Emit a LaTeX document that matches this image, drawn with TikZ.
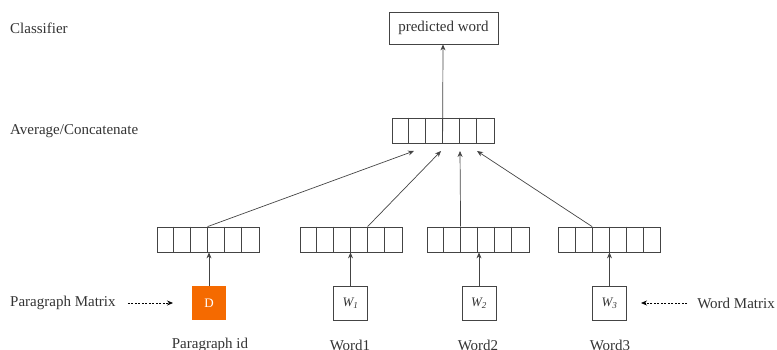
\documentclass[tikz,border=0pt]{standalone}
\usepackage{fontspec}
\setmainfont{Liberation Serif}
\usetikzlibrary{arrows.meta,calc}
\definecolor{txt}{HTML}{333333}
\definecolor{ln}{HTML}{444444}
\definecolor{org}{RGB}{245,106,0}
\begin{document}
\begin{tikzpicture}[x=1pt,y=-1pt,
  lbl/.style={font=\fontsize{15}{17}\selectfont, text=txt, inner sep=0pt},
  vecbox/.style={draw=ln, line width=0.8pt, minimum width=102pt, minimum height=25pt, inner sep=0pt},
  wbox/.style={draw=ln, line width=0.8pt, minimum width=34pt, minimum height=34pt, inner sep=0pt, font=\fontsize{13}{15}\selectfont\itshape, text=txt},
  dbox/.style={fill=org, minimum width=34pt, minimum height=34pt, inner sep=0pt, font=\fontsize{13}{15}\selectfont, text=white},
  conn/.style={draw=ln, line width=0.7pt},
  arr/.style={conn, -{Stealth[length=6pt,width=5pt]}},
  darr/.style={draw=black, line width=0.7pt, dash pattern=on 2pt off 1.5pt, -{Stealth[length=6pt,width=5pt]}}
]
\useasboundingbox (0,0) rectangle (777,350);
% left labels
\node[lbl, anchor=west] (cls) at (10,28) {Classifier};
\node[lbl, anchor=west] (avg) at (10,131) {Average/Concatenate};
% top
\node[lbl, draw=ln, line width=0.8pt, minimum width=109pt, minimum height=32pt] (pred) at (443.5,28) {predicted word};
\node[vecbox] (top) at (443,130.5) {};
\foreach \k in {1,...,5}{\draw[ln, line width=0.7pt] ($(top.north west)+(\k*17,0)$) -- ($(top.south west)+(\k*17,0)$);}
% bottom vectors
\foreach \n/\x in {v1/208, v2/351, v3/478, v4/609.5}{
  \node[vecbox] (\n) at (\x,239.5) {};
  \foreach \k in {1,...,5}{\draw[ln, line width=0.7pt] ($(\n.north west)+(\k*17,0)$) -- ($(\n.south west)+(\k*17,0)$);}
}
% input boxes
\node[dbox] (d) at (209,303) {D};
\node[wbox] (w1) at (350.5,303) {W\textsubscript{1}};
\node[wbox] (w2) at (479,303) {W\textsubscript{2}};
\node[wbox] (w3) at (609.5,303) {W\textsubscript{3}};
% bottom labels
\node[lbl] (pid) at (210,345) {Paragraph id};
\node[lbl] (wd1) at (350,345) {Word1};
\node[lbl] (wd2) at (478,345) {Word2};
\node[lbl] (wd3) at (610,345) {Word3};
% side labels
\node[lbl, anchor=west] (pm) at (10,303) {Paragraph Matrix};
\node[lbl, anchor=east] (wm) at (775,303) {Word Matrix};
\coordinate (pmend) at (173,303);
\coordinate (wmend) at (641,303);
\draw[darr] (pm.east)++(12,0) -- (pmend);
\draw[darr] (wm.west)++(-10,0) -- (wmend);
% arrows to top vector
\coordinate (t1) at (414,151);
\coordinate (t2) at (441,151);
\coordinate (t3) at (460,151);
\coordinate (t4) at (477,151);
\draw[arr] ($(v1.north west)+(51,0)$) -- (t1);
\draw[arr] ($(v2.north west)+(68,0)$) -- (t2);
\draw[arr] ($(v3.north west)+(34,0)$) -- (t3);
\draw[arr] ($(v4.north west)+(34,0)$) -- (t4);
% top vector to predicted
\draw[arr] ($(top.north west)+(51,0)$) ++(0,25) -- (pred.south -| top.north) ;
% inputs to vectors
\draw[arr] (d.north) -- (d.north |- v1.south);
\draw[arr] (w1.north) -- (w1.north |- v2.south);
\draw[arr] (w2.north) -- (w2.north |- v3.south);
\draw[arr] (w3.north) -- (w3.north |- v4.south);
\end{tikzpicture}
\end{document}
